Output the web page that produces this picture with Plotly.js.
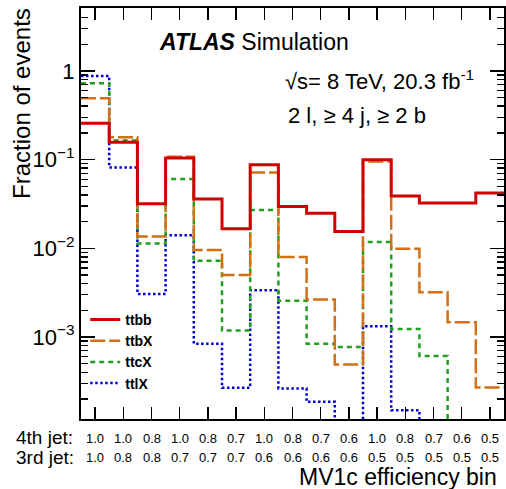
<!DOCTYPE html>
<html>
<head>
<meta charset="utf-8">
<script src="https://cdn.plot.ly/plotly-3.0.1.min.js"></script>
<style>html,body{margin:0;padding:0;background:#fff;}#chart{width:506px;height:489px;}</style>
</head>
<body>
<div id="chart"></div>
<script>
// ---- data ----
const binIndex = [0,1,2,3,4,5,6,7,8,9,10,11,12,13,14];
const jet4Labels = ["1.0","1.0","0.8","1.0","0.8","0.7","1.0","0.8","0.7","0.6","1.0","0.8","0.7","0.6","0.5"];
const jet3Labels = ["1.0","0.8","0.8","0.7","0.7","0.7","0.6","0.6","0.6","0.6","0.5","0.5","0.5","0.5","0.5"];
const ttbb = [0.258, 0.157, 0.0318, 0.104, 0.036, 0.0166, 0.0873, 0.0296, 0.0248, 0.0155, 0.100, 0.039, 0.0324, 0.0324, 0.042];
const ttbX = [0.493, 0.179, 0.0136, 0.108, 0.0096, 0.0050, 0.0716, 0.0080, 0.00264, 0.00049, 0.095, 0.0099, 0.0032, 0.00147, 0.00027];
const ttcX = [0.727, 0.164, 0.0113, 0.0603, 0.00725, 0.00118, 0.0271, 0.00257, 0.00084, 0.00077, 0.0118, 0.00123, 0.00061, 0, 0];
const ttlX = [0.879, 0.0815, 0.00306, 0.0140, 0.00084, 0.000267, 0.00336, 0.000263, 0.000186, 0, 0.00132, 0.000149, 0, 0, 0];
const seriesNames = ["ttbb", "ttbX", "ttcX", "ttlX"];
const yTickVals = [0.001, 0.01, 0.1, 1];
const yTickText = ["10<sup>\u22123</sup>", "10<sup>\u22122</sup>", "10<sup>\u22121</sup>", "1"];

// ---- drawing ----
const FONT = "Liberation Sans, Arial, Helvetica, sans-serif";
const FLOOR = 1e-6; // empty bins drop below the axis (log scale)

function stepTrace(name, vals, color, width, dash) {
  const x = binIndex.map(i => i - 0.5).concat([binIndex[binIndex.length - 1] + 0.5]);
  const yv = vals.map(v => v > 0 ? v : FLOOR);
  const y = yv.concat([yv[yv.length - 1]]);
  return {
    type: "scatter", mode: "lines", name: name, x: x, y: y,
    line: {shape: "hv", color: color, width: width, dash: dash},
    hoverinfo: "skip"
  };
}

const traces = [
  stepTrace(seriesNames[3], ttlX, "#0000d6", 2.5, "2.5px,2.5px"),
  stepTrace(seriesNames[2], ttcX, "#1fa01f", 2.5, "5px,4px"),
  stepTrace(seriesNames[1], ttbX, "#d46f14", 2.5, "15px,4px"),
  stepTrace(seriesNames[0], ttbb, "#d10000", 3, "solid")
];

const minorVals = [];
for (let e = -4; e <= 0; e++) {
  for (let m = 2; m <= 9; m++) minorVals.push(m * Math.pow(10, e));
}

const ROW1 = -0.0462, ROW2 = -0.0925;
const annotations = [
  {text: "<b><i>ATLAS</i></b> Simulation", xref: "paper", yref: "paper", x: 0.1797, y: 0.917,
   xanchor: "left", yanchor: "middle", showarrow: false, font: {family: FONT, size: 23, color: "#000"}},
  {text: "\u221As= 8 TeV, 20.3 fb<sup>-1</sup>", xref: "paper", yref: "paper", x: 0.4775, y: 0.826,
   xanchor: "left", yanchor: "middle", showarrow: false, font: {family: FONT, size: 22, color: "#000"}},
  {text: "2 l, \u2265 4 j, \u2265 2 b", xref: "paper", yref: "paper", x: 0.4846, y: 0.739,
   xanchor: "left", yanchor: "middle", showarrow: false, font: {family: FONT, size: 22, color: "#000"}},
  {text: "Fraction of events", xref: "paper", yref: "paper", x: -0.1395, y: 0.769, textangle: -90,
   xanchor: "center", yanchor: "middle", showarrow: false, font: {family: FONT, size: 24, color: "#000"}},
  {text: "MV1c efficiency bin", xref: "paper", yref: "paper", x: 0.988, y: -0.1415,
   xanchor: "right", yanchor: "middle", showarrow: false, font: {family: FONT, size: 23, color: "#000"}},
  {text: "4th jet:", xref: "paper", yref: "paper", x: -0.158, y: ROW1,
   xanchor: "left", yanchor: "middle", showarrow: false, font: {family: FONT, size: 19, color: "#000"}},
  {text: "3rd jet:", xref: "paper", yref: "paper", x: -0.158, y: ROW2,
   xanchor: "left", yanchor: "middle", showarrow: false, font: {family: FONT, size: 19, color: "#000"}}
];
binIndex.forEach((b, i) => {
  annotations.push({text: jet4Labels[i], xref: "x", yref: "paper", x: b, y: ROW1 - 0.002,
    xanchor: "center", yanchor: "middle", showarrow: false, font: {family: FONT, size: 13, color: "#000"}});
  annotations.push({text: jet3Labels[i], xref: "x", yref: "paper", x: b, y: ROW2 - 0.002,
    xanchor: "center", yanchor: "middle", showarrow: false, font: {family: FONT, size: 13, color: "#000"}});
});

const layout = {
  width: 506, height: 489,
  margin: {l: 81, r: 2, t: 8, b: 70, pad: 0},
  paper_bgcolor: "#fff", plot_bgcolor: "#fff",
  font: {family: FONT, color: "#000"},
  showlegend: true,
  legend: {x: 0.01, y: 0.28, xanchor: "left", yanchor: "top", traceorder: "reversed",
    bgcolor: "rgba(0,0,0,0)", borderwidth: 0, itemwidth: 30,
    font: {family: FONT, size: 14, color: "#000", weight: "bold"}},
  xaxis: {range: [-0.5, 14.5], tickvals: binIndex, showticklabels: false,
    ticks: "inside", ticklen: 12, tickwidth: 1.5, tickcolor: "#000",
    showline: true, linewidth: 2, linecolor: "#000", mirror: "ticks",
    showgrid: false, zeroline: false, fixedrange: true},
  yaxis: {type: "log", range: [-3.925, 0.71], tickvals: yTickVals, ticktext: yTickText,
    ticks: "inside", ticklen: 14, tickwidth: 1.5, tickcolor: "#000",
    tickfont: {family: FONT, size: 22, color: "#000"},
    minor: {tickvals: minorVals, ticks: "inside", ticklen: 7, tickwidth: 1.5, tickcolor: "#000", showgrid: false},
    showline: true, linewidth: 2, linecolor: "#000", mirror: "ticks",
    showgrid: false, zeroline: false, fixedrange: true},
  annotations: annotations
};

Plotly.newPlot("chart", traces, layout, {staticPlot: true, displayModeBar: false});
</script>
</body>
</html>
